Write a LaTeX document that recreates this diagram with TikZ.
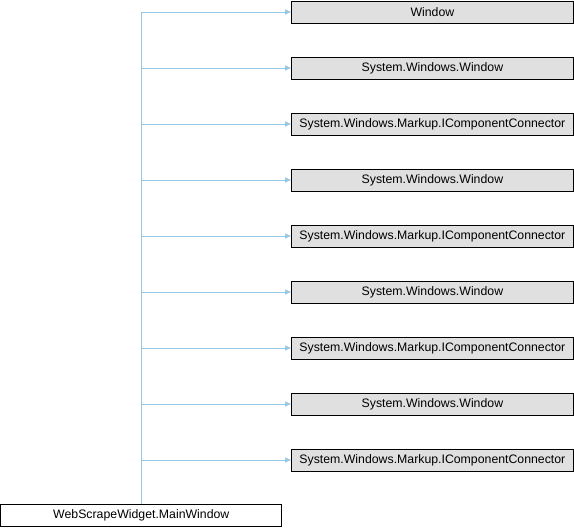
\documentclass[tikz,border=0pt]{standalone}
\usepackage{fontspec}
\setmainfont{Liberation Sans}
\usetikzlibrary{arrows.meta}
\definecolor{edgeblue}{RGB}{150,200,230}
\definecolor{boxgray}{RGB}{224,224,224}
\tikzset{
  base/.style={draw=black, fill=boxgray, line width=0.8pt, minimum width=282pt, minimum height=22pt, inner sep=0pt, font=\fontsize{12.3}{14}\selectfont, anchor=west},
  derived/.style={base, fill=white, minimum width=281pt},
  inh/.style={draw=edgeblue, line width=0.8pt, -{Triangle[length=6pt,width=5pt]}}
}
\begin{document}
\begin{tikzpicture}[x=1pt,y=-1pt]
\useasboundingbox (0,0) rectangle (574,528);
\node[base] (b1) at (291,12) {Window};
\node[base] (b2) at (291,68) {System.Windows.Window};
\node[base] (b3) at (291,124) {System.Windows.Markup.IComponentConnector};
\node[base] (b4) at (291,180) {System.Windows.Window};
\node[base] (b5) at (291,236) {System.Windows.Markup.IComponentConnector};
\node[base] (b6) at (291,292) {System.Windows.Window};
\node[base] (b7) at (291,348) {System.Windows.Markup.IComponentConnector};
\node[base] (b8) at (291,404) {System.Windows.Window};
\node[base] (b9) at (291,460) {System.Windows.Markup.IComponentConnector};
\node[derived] (m) at (0.4,515.5) {WebScrapeWidget.MainWindow};
\coordinate (top) at (141.5,12);
\draw[draw=edgeblue, line width=0.8pt] (m.north -| top) -- (top);
\foreach \i in {1,...,9}{
  \draw[inh] (top |- b\i.west) -- (b\i.west);
}
\end{tikzpicture}
\end{document}
